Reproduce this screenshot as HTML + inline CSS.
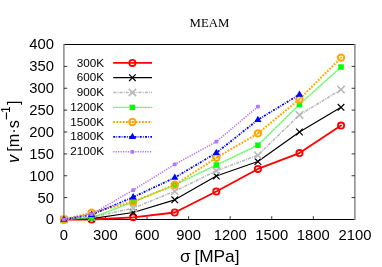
<!DOCTYPE html>
<html><head><meta charset="utf-8"><title>MEAM</title>
<style>
html,body{margin:0;padding:0;background:#fff;}
body{width:382px;height:267px;overflow:hidden;font-family:"Liberation Sans",sans-serif;}
svg{display:block;will-change:transform;}
text{font-family:"Liberation Sans",sans-serif;fill:#000;}
.ser{font-family:"Liberation Serif",serif;}
</style></head><body>
<svg width="382" height="267" viewBox="0 0 382 267">
<rect x="0" y="0" width="382" height="267" fill="#fff"/>
<text class="ser" transform="translate(209.4,26.7) scale(1,1.04)" font-size="12.8" text-anchor="middle" fill="#111">MEAM</text>
<g stroke="#000" fill="none">
<line x1="63.9" y1="44.5" x2="354.9" y2="44.5" stroke-width="1"/>
<line x1="63.9" y1="219.5" x2="354.9" y2="219.5" stroke-width="1"/>
<line x1="63.9" y1="44.0" x2="63.9" y2="220.0" stroke-width="1.35" stroke="#7c7c7c"/>
<line x1="354.9" y1="44.0" x2="354.9" y2="220.0" stroke-width="1.35" stroke="#7c7c7c"/>
<line x1="105.47" y1="219.5" x2="105.47" y2="216.2" stroke-width="0.8"/>
<line x1="147.04" y1="219.5" x2="147.04" y2="216.2" stroke-width="0.8"/>
<line x1="188.61" y1="219.5" x2="188.61" y2="216.2" stroke-width="0.8"/>
<line x1="230.19" y1="219.5" x2="230.19" y2="216.2" stroke-width="0.8"/>
<line x1="271.76" y1="219.5" x2="271.76" y2="216.2" stroke-width="0.8"/>
<line x1="313.33" y1="219.5" x2="313.33" y2="216.2" stroke-width="0.8"/>
<line x1="63.9" y1="197.62" x2="67.2" y2="197.62" stroke-width="0.8"/>
<line x1="354.9" y1="197.62" x2="351.59999999999997" y2="197.62" stroke-width="0.8"/>
<line x1="63.9" y1="175.75" x2="67.2" y2="175.75" stroke-width="0.8"/>
<line x1="354.9" y1="175.75" x2="351.59999999999997" y2="175.75" stroke-width="0.8"/>
<line x1="63.9" y1="153.88" x2="67.2" y2="153.88" stroke-width="0.8"/>
<line x1="354.9" y1="153.88" x2="351.59999999999997" y2="153.88" stroke-width="0.8"/>
<line x1="63.9" y1="132.00" x2="67.2" y2="132.00" stroke-width="0.8"/>
<line x1="354.9" y1="132.00" x2="351.59999999999997" y2="132.00" stroke-width="0.8"/>
<line x1="63.9" y1="110.12" x2="67.2" y2="110.12" stroke-width="0.8"/>
<line x1="354.9" y1="110.12" x2="351.59999999999997" y2="110.12" stroke-width="0.8"/>
<line x1="63.9" y1="88.25" x2="67.2" y2="88.25" stroke-width="0.8"/>
<line x1="354.9" y1="88.25" x2="351.59999999999997" y2="88.25" stroke-width="0.8"/>
<line x1="63.9" y1="66.38" x2="67.2" y2="66.38" stroke-width="0.8"/>
<line x1="354.9" y1="66.38" x2="351.59999999999997" y2="66.38" stroke-width="0.8"/>
</g>
<polyline points="63.90,219.50 91.61,219.50 133.19,217.31 174.76,212.50 216.33,191.50 257.90,168.93 299.47,153.09 341.04,125.57" fill="none" stroke="#ff0000" stroke-width="1.8" stroke-linecap="round" stroke-linejoin="round"/>
<circle cx="63.90" cy="219.50" r="3.1" fill="none" stroke="#ff0000" stroke-width="1.85"/>
<circle cx="91.61" cy="219.50" r="3.1" fill="none" stroke="#ff0000" stroke-width="1.85"/>
<circle cx="133.19" cy="217.31" r="3.1" fill="none" stroke="#ff0000" stroke-width="1.85"/>
<circle cx="174.76" cy="212.50" r="3.1" fill="none" stroke="#ff0000" stroke-width="1.85"/>
<circle cx="216.33" cy="191.50" r="3.1" fill="none" stroke="#ff0000" stroke-width="1.85"/>
<circle cx="257.90" cy="168.93" r="3.1" fill="none" stroke="#ff0000" stroke-width="1.85"/>
<circle cx="299.47" cy="153.09" r="3.1" fill="none" stroke="#ff0000" stroke-width="1.85"/>
<circle cx="341.04" cy="125.57" r="3.1" fill="none" stroke="#ff0000" stroke-width="1.85"/>
<polyline points="63.90,219.50 91.61,218.62 133.19,212.50 174.76,199.81 216.33,176.01 257.90,161.53 299.47,132.00 341.04,107.28" fill="none" stroke="#000000" stroke-width="1.2" stroke-linejoin="round"/>
<path d="M60.60 216.20L67.20 222.80M60.60 222.80L67.20 216.20" stroke="#000000" stroke-width="1.2" fill="none"/>
<path d="M88.31 215.32L94.91 221.93M88.31 221.93L94.91 215.32" stroke="#000000" stroke-width="1.2" fill="none"/>
<path d="M129.89 209.20L136.49 215.80M129.89 215.80L136.49 209.20" stroke="#000000" stroke-width="1.2" fill="none"/>
<path d="M171.46 196.51L178.06 203.11M171.46 203.11L178.06 196.51" stroke="#000000" stroke-width="1.2" fill="none"/>
<path d="M213.03 172.71L219.63 179.31M213.03 179.31L219.63 172.71" stroke="#000000" stroke-width="1.2" fill="none"/>
<path d="M254.60 158.23L261.20 164.83M254.60 164.83L261.20 158.23" stroke="#000000" stroke-width="1.2" fill="none"/>
<path d="M296.17 128.70L302.77 135.30M296.17 135.30L302.77 128.70" stroke="#000000" stroke-width="1.2" fill="none"/>
<path d="M337.74 103.98L344.34 110.58M337.74 110.58L344.34 103.98" stroke="#000000" stroke-width="1.2" fill="none"/>
<polyline points="63.90,219.50 91.61,217.31 133.19,208.12 174.76,191.28 216.33,170.76 257.90,155.19 299.47,114.94 341.04,89.56" fill="none" stroke="#bababa" stroke-width="1.6" stroke-dasharray="3.2 1.0 1.1 1.0" stroke-linejoin="round"/>
<path d="M60.20 215.80L67.60 223.20M60.20 223.20L67.60 215.80" stroke="#bababa" stroke-width="1.7" fill="none"/>
<path d="M87.91 213.61L95.31 221.01M87.91 221.01L95.31 213.61" stroke="#bababa" stroke-width="1.7" fill="none"/>
<path d="M129.49 204.43L136.89 211.82M129.49 211.82L136.89 204.43" stroke="#bababa" stroke-width="1.7" fill="none"/>
<path d="M171.06 187.58L178.46 194.98M171.06 194.98L178.46 187.58" stroke="#bababa" stroke-width="1.7" fill="none"/>
<path d="M212.63 167.06L220.03 174.46M212.63 174.46L220.03 167.06" stroke="#bababa" stroke-width="1.7" fill="none"/>
<path d="M254.20 151.49L261.60 158.89M254.20 158.89L261.60 151.49" stroke="#bababa" stroke-width="1.7" fill="none"/>
<path d="M295.77 111.24L303.17 118.64M295.77 118.64L303.17 111.24" stroke="#bababa" stroke-width="1.7" fill="none"/>
<path d="M337.34 85.86L344.74 93.26M337.34 93.26L344.74 85.86" stroke="#bababa" stroke-width="1.7" fill="none"/>
<polyline points="63.90,219.50 91.61,217.75 133.19,202.00 174.76,184.94 216.33,164.99 257.90,145.21 299.47,104.44 341.04,67.03" fill="none" stroke="#00ff00" stroke-width="1.4" stroke-opacity="0.64" stroke-dasharray="2.3 0.35" stroke-linejoin="round"/>
<rect x="61.15" y="216.75" width="5.5" height="5.5" fill="#00ff00"/>
<rect x="88.86" y="215.00" width="5.5" height="5.5" fill="#00ff00"/>
<rect x="130.44" y="199.25" width="5.5" height="5.5" fill="#00ff00"/>
<rect x="172.01" y="182.19" width="5.5" height="5.5" fill="#00ff00"/>
<rect x="213.58" y="162.24" width="5.5" height="5.5" fill="#00ff00"/>
<rect x="255.15" y="142.46" width="5.5" height="5.5" fill="#00ff00"/>
<rect x="296.72" y="101.69" width="5.5" height="5.5" fill="#00ff00"/>
<rect x="338.29" y="64.28" width="5.5" height="5.5" fill="#00ff00"/>
<polyline points="63.90,219.50 91.61,212.68 133.19,201.78 174.76,184.81 216.33,157.81 257.90,133.40 299.47,99.19 341.04,57.62" fill="none" stroke="#ffa500" stroke-width="2.0" stroke-dasharray="1.8 1.4" stroke-linejoin="round"/>
<circle cx="63.90" cy="219.50" r="3.2" fill="none" stroke="#ffa500" stroke-width="2.0"/><circle cx="63.90" cy="219.50" r="1.0" fill="#ffa500" stroke="none"/>
<circle cx="91.61" cy="212.68" r="3.2" fill="none" stroke="#ffa500" stroke-width="2.0"/><circle cx="91.61" cy="212.68" r="1.0" fill="#ffa500" stroke="none"/>
<circle cx="133.19" cy="201.78" r="3.2" fill="none" stroke="#ffa500" stroke-width="2.0"/><circle cx="133.19" cy="201.78" r="1.0" fill="#ffa500" stroke="none"/>
<circle cx="174.76" cy="184.81" r="3.2" fill="none" stroke="#ffa500" stroke-width="2.0"/><circle cx="174.76" cy="184.81" r="1.0" fill="#ffa500" stroke="none"/>
<circle cx="216.33" cy="157.81" r="3.2" fill="none" stroke="#ffa500" stroke-width="2.0"/><circle cx="216.33" cy="157.81" r="1.0" fill="#ffa500" stroke="none"/>
<circle cx="257.90" cy="133.40" r="3.2" fill="none" stroke="#ffa500" stroke-width="2.0"/><circle cx="257.90" cy="133.40" r="1.0" fill="#ffa500" stroke="none"/>
<circle cx="299.47" cy="99.19" r="3.2" fill="none" stroke="#ffa500" stroke-width="2.0"/><circle cx="299.47" cy="99.19" r="1.0" fill="#ffa500" stroke="none"/>
<circle cx="341.04" cy="57.62" r="3.2" fill="none" stroke="#ffa500" stroke-width="2.0"/><circle cx="341.04" cy="57.62" r="1.0" fill="#ffa500" stroke="none"/>
<polyline points="63.90,219.50 91.61,214.69 133.19,197.19 174.76,177.63 216.33,152.91 257.90,119.75 299.47,94.51" fill="none" stroke="#0000ff" stroke-width="1.8" stroke-dasharray="2.0 1.2 0.8 1.3" stroke-linejoin="round"/>
<path d="M63.90 215.40L67.50 221.70L60.30 221.70Z" fill="#0000ff"/>
<path d="M91.61 210.59L95.21 216.89L88.01 216.89Z" fill="#0000ff"/>
<path d="M133.19 193.09L136.79 199.39L129.59 199.39Z" fill="#0000ff"/>
<path d="M174.76 173.53L178.36 179.83L171.16 179.83Z" fill="#0000ff"/>
<path d="M216.33 148.81L219.93 155.11L212.73 155.11Z" fill="#0000ff"/>
<path d="M257.90 115.65L261.50 121.95L254.30 121.95Z" fill="#0000ff"/>
<path d="M299.47 90.41L303.07 96.71L295.87 96.71Z" fill="#0000ff"/>
<polyline points="63.90,219.50 91.61,214.25 133.19,190.10 174.76,164.38 216.33,141.71 257.90,106.54" fill="none" stroke="#b377fb" stroke-width="1.6" stroke-dasharray="1.25 1.2" stroke-linejoin="round"/>
<rect x="62.00" y="217.65" width="3.8" height="3.7" rx="0.9" fill="#b377fb"/>
<rect x="89.71" y="212.40" width="3.8" height="3.7" rx="0.9" fill="#b377fb"/>
<rect x="131.29" y="188.25" width="3.8" height="3.7" rx="0.9" fill="#b377fb"/>
<rect x="172.86" y="162.53" width="3.8" height="3.7" rx="0.9" fill="#b377fb"/>
<rect x="214.43" y="139.86" width="3.8" height="3.7" rx="0.9" fill="#b377fb"/>
<rect x="256.00" y="104.69" width="3.8" height="3.7" rx="0.9" fill="#b377fb"/>
<text x="104" y="66.50" font-size="11.7" text-anchor="end">300K</text>
<line x1="113.2" y1="62.9" x2="152" y2="62.9" stroke="#ff0000" stroke-width="1.8" />
<circle cx="132.40" cy="62.90" r="3.1" fill="none" stroke="#ff0000" stroke-width="1.85"/>
<text x="104" y="81.30" font-size="11.7" text-anchor="end">600K</text>
<line x1="113.2" y1="77.7" x2="152" y2="77.7" stroke="#000000" stroke-width="1.2"/>
<path d="M129.10 74.40L135.70 81.00M129.10 81.00L135.70 74.40" stroke="#000000" stroke-width="1.2" fill="none"/>
<text x="104" y="96.10" font-size="11.7" text-anchor="end">900K</text>
<line x1="113.2" y1="92.5" x2="152" y2="92.5" stroke="#bababa" stroke-width="1.6" stroke-dasharray="3.2 1.0 1.1 1.0"/>
<path d="M128.70 88.80L136.10 96.20M128.70 96.20L136.10 88.80" stroke="#bababa" stroke-width="1.7" fill="none"/>
<text x="104" y="111.00" font-size="11.7" text-anchor="end">1200K</text>
<line x1="113.2" y1="107.4" x2="152" y2="107.4" stroke="#00ff00" stroke-width="1.4" stroke-opacity="0.64" stroke-dasharray="2.3 0.35"/>
<rect x="129.65" y="104.65" width="5.5" height="5.5" fill="#00ff00"/>
<text x="104" y="125.60" font-size="11.7" text-anchor="end">1500K</text>
<line x1="113.2" y1="122.0" x2="152" y2="122.0" stroke="#ffa500" stroke-width="2.0" stroke-dasharray="1.8 1.4"/>
<circle cx="132.40" cy="122.00" r="3.2" fill="none" stroke="#ffa500" stroke-width="2.0"/><circle cx="132.40" cy="122.00" r="1.0" fill="#ffa500" stroke="none"/>
<text x="104" y="140.40" font-size="11.7" text-anchor="end">1800K</text>
<line x1="113.2" y1="136.8" x2="152" y2="136.8" stroke="#0000ff" stroke-width="1.8" stroke-dasharray="2.0 1.2 0.8 1.3"/>
<path d="M132.40 132.70L136.00 139.00L128.80 139.00Z" fill="#0000ff"/>
<text x="104" y="155.40" font-size="11.7" text-anchor="end">2100K</text>
<line x1="113.2" y1="151.8" x2="152" y2="151.8" stroke="#b377fb" stroke-width="1.6" stroke-dasharray="1.25 1.2"/>
<rect x="130.50" y="149.95" width="3.8" height="3.7" rx="0.9" fill="#b377fb"/>
<text x="63.90" y="239.6" font-size="14.8" text-anchor="middle">0</text>
<text x="105.47" y="239.6" font-size="14.8" text-anchor="middle">300</text>
<text x="147.04" y="239.6" font-size="14.8" text-anchor="middle">600</text>
<text x="188.61" y="239.6" font-size="14.8" text-anchor="middle">900</text>
<text x="230.19" y="239.6" font-size="14.8" text-anchor="middle">1200</text>
<text x="271.76" y="239.6" font-size="14.8" text-anchor="middle">1500</text>
<text x="313.33" y="239.6" font-size="14.8" text-anchor="middle">1800</text>
<text x="354.90" y="239.6" font-size="14.8" text-anchor="middle">2100</text>
<text x="54" y="224.40" font-size="14.8" text-anchor="end">0</text>
<text x="54" y="202.53" font-size="14.8" text-anchor="end">50</text>
<text x="54" y="180.65" font-size="14.8" text-anchor="end">100</text>
<text x="54" y="158.78" font-size="14.8" text-anchor="end">150</text>
<text x="54" y="136.90" font-size="14.8" text-anchor="end">200</text>
<text x="54" y="115.03" font-size="14.8" text-anchor="end">250</text>
<text x="54" y="93.15" font-size="14.8" text-anchor="end">300</text>
<text x="54" y="71.28" font-size="14.8" text-anchor="end">350</text>
<text x="54" y="49.40" font-size="14.8" text-anchor="end">400</text>
<text transform="translate(179.9,261.5) scale(1.08,1)" font-size="16">σ<tspan dx="-0.9"> [MPa]</tspan></text>
<text transform="translate(19.4,162.9) rotate(-90) scale(1,1.065)" font-size="16.3"><tspan font-style="italic">v</tspan><tspan dx="-1.5"> </tspan>[m·s</text>
<rect x="5.9" y="112.4" width="1.1" height="7.0" fill="#000"/>
<text transform="translate(9.8,112.8) rotate(-90) scale(1,1.1)" font-size="11.4">1</text>
<text transform="translate(19.4,105.0) rotate(-90) scale(1,1.065)" font-size="16.3">]</text>
</svg>
</body></html>
